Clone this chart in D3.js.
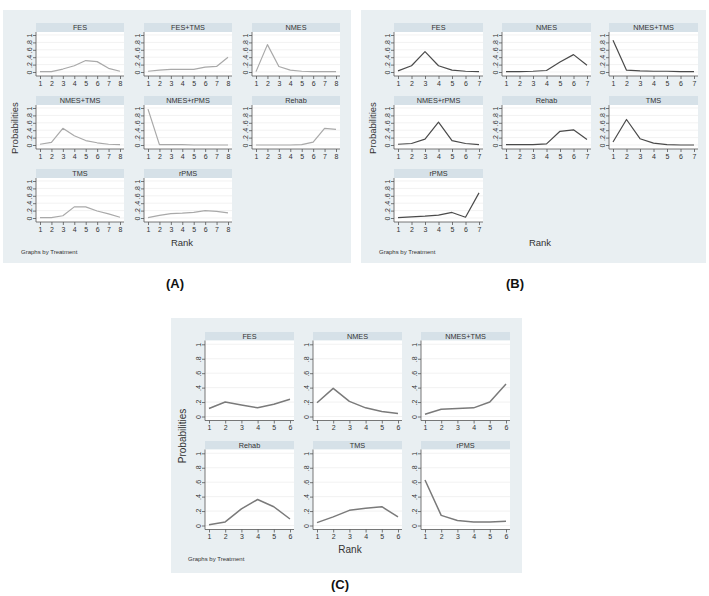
<!DOCTYPE html>
<html>
<head>
<meta charset="utf-8">
<script src="https://cdn.jsdelivr.net/npm/d3@7"></script>
<style>
  body { margin: 0; background: #fff; }
  text { font-family: "Liberation Sans", Arial, sans-serif; }
</style>
</head>
<body>
<svg id="chart" width="709" height="596"></svg>
<script>
// shared y axis ticks
const yTicks = [0, 0.2, 0.4, 0.6, 0.8, 1];
const yTickLabels = ["0", ".2", ".4", ".6", ".8", "1"];

// (A) 8 treatments, ranks 1-8
const ranksA = [1, 2, 3, 4, 5, 6, 7, 8];
const treatmentsA = ["FES", "FES+TMS", "NMES", "NMES+TMS", "NMES+rPMS", "Rehab", "TMS", "rPMS"];
const probsA = [
  [0.01, 0.01, 0.08, 0.17, 0.31, 0.28, 0.10, 0.02],
  [0.02, 0.05, 0.07, 0.07, 0.07, 0.13, 0.15, 0.40],
  [0.01, 0.74, 0.15, 0.05, 0.02, 0.01, 0.01, 0.01],
  [0.02, 0.07, 0.45, 0.25, 0.12, 0.06, 0.02, 0.01],
  [0.97, 0.01, 0.01, 0.01, 0.00, 0.00, 0.00, 0.00],
  [0.00, 0.00, 0.00, 0.00, 0.01, 0.08, 0.45, 0.42],
  [0.01, 0.01, 0.06, 0.30, 0.30, 0.19, 0.11, 0.02],
  [0.01, 0.07, 0.12, 0.13, 0.15, 0.20, 0.18, 0.14]
];

// (B) 7 treatments, ranks 1-7
const ranksB = [1, 2, 3, 4, 5, 6, 7];
const treatmentsB = ["FES", "NMES", "NMES+TMS", "NMES+rPMS", "Rehab", "TMS", "rPMS"];
const probsB = [
  [0.03, 0.17, 0.55, 0.17, 0.05, 0.02, 0.01],
  [0.01, 0.01, 0.02, 0.04, 0.27, 0.47, 0.18],
  [0.86, 0.05, 0.03, 0.02, 0.02, 0.01, 0.01],
  [0.02, 0.04, 0.16, 0.62, 0.12, 0.04, 0.01],
  [0.01, 0.01, 0.01, 0.03, 0.37, 0.41, 0.15],
  [0.08, 0.69, 0.17, 0.05, 0.01, 0.00, 0.00],
  [0.01, 0.03, 0.05, 0.08, 0.15, 0.02, 0.68]
];

// (C) 6 treatments, ranks 1-6
const ranksC = [1, 2, 3, 4, 5, 6];
const treatmentsC = ["FES", "NMES", "NMES+TMS", "Rehab", "TMS", "rPMS"];
const probsC = [
  [0.11, 0.20, 0.16, 0.12, 0.17, 0.24],
  [0.19, 0.39, 0.21, 0.12, 0.07, 0.04],
  [0.03, 0.10, 0.11, 0.12, 0.20, 0.45],
  [0.01, 0.05, 0.23, 0.36, 0.26, 0.09],
  [0.04, 0.12, 0.21, 0.24, 0.26, 0.12],
  [0.63, 0.14, 0.07, 0.05, 0.05, 0.06]
];

const svg = d3.select("#chart");

function drawPanel(p) {
  const g = svg.append("g");

  g.append("rect")
    .attr("x", p.bg[0]).attr("y", p.bg[1])
    .attr("width", p.bg[2]).attr("height", p.bg[3])
    .attr("fill", "#e9eff2");

  p.treatments.forEach((name, i) => {
    const x0 = p.cols[i % 3];
    const top = p.rows[Math.floor(i / 3)];
    const hb = top + p.headerH;

    const x = d3.scaleLinear()
      .domain(d3.extent(p.ranks))
      .range([x0 + 4, x0 + p.w - 4]);
    const y = d3.scaleLinear()
      .domain([0, 1])
      .range([hb + p.plotH - p.padB, hb + p.padT]);

    // strip title
    g.append("rect")
      .attr("x", x0).attr("y", top)
      .attr("width", p.w).attr("height", p.headerH)
      .attr("fill", "#d6e1e8");
    g.append("text")
      .attr("x", x0 + p.w / 2).attr("y", top + p.headerH - 1.8)
      .attr("text-anchor", "middle")
      .attr("font-size", p.titleSize)
      .attr("fill", "#333")
      .text(name);

    // plot region
    g.append("rect")
      .attr("x", x0).attr("y", hb)
      .attr("width", p.w).attr("height", p.plotH)
      .attr("fill", "#fff");

    g.selectAll(null)
      .data(yTicks)
      .join("line")
      .attr("x1", x0).attr("x2", x0 + p.w)
      .attr("y1", d => y(d)).attr("y2", d => y(d))
      .attr("stroke", "#ececec")
      .attr("stroke-width", 0.7);

    // y axis
    const yAxis = g.append("g")
      .attr("transform", `translate(${x0},0)`)
      .call(d3.axisLeft(y).tickValues(yTicks)
        .tickFormat((d, k) => yTickLabels[k]).tickSize(3).tickPadding(1.5));
    yAxis.select(".domain").attr("stroke", "#555").attr("stroke-width", 0.8)
      .attr("d", `M0,${hb}V${hb + p.plotH}`);
    yAxis.selectAll(".tick line").attr("stroke", "#555").attr("stroke-width", 0.8);
    yAxis.selectAll(".tick text")
      .attr("font-size", p.tickSize)
      .attr("fill", "#333")
      .attr("font-family", "Liberation Sans, Arial, sans-serif")
      .attr("text-anchor", "middle")
      .attr("x", null).attr("dy", null)
      .attr("transform", "translate(-4.5,0) rotate(-90)");

    // x axis
    const xAxis = g.append("g")
      .attr("transform", `translate(0,${hb + p.plotH})`)
      .call(d3.axisBottom(x).tickValues(p.ranks)
        .tickFormat(d3.format("d")).tickSize(3).tickPadding(2));
    xAxis.select(".domain").attr("stroke", "#555").attr("stroke-width", 0.8)
      .attr("d", `M${x0},0H${x0 + p.w}`);
    xAxis.selectAll(".tick line").attr("stroke", "#555").attr("stroke-width", 0.8);
    xAxis.selectAll(".tick text")
      .attr("font-size", p.tickSize)
      .attr("fill", "#333")
      .attr("font-family", "Liberation Sans, Arial, sans-serif");

    const line = d3.line()
      .x((d, k) => x(p.ranks[k]))
      .y(d => y(d));

    g.append("path")
      .datum(p.probs[i])
      .attr("d", line)
      .attr("fill", "none")
      .attr("stroke", p.lineColor)
      .attr("stroke-width", p.lineWidth)
      .attr("stroke-linejoin", "round");
  });

  g.append("text")
    .attr("transform", `translate(${p.yTitle[0]},${p.yTitle[1]}) rotate(-90)`)
    .attr("text-anchor", "middle")
    .attr("font-size", p.axisTitleSize)
    .attr("fill", "#333")
    .text("Probabilities");

  g.append("text")
    .attr("x", p.xTitle[0]).attr("y", p.xTitle[1])
    .attr("text-anchor", "middle")
    .attr("font-size", p.axisTitleSize)
    .attr("fill", "#333")
    .text("Rank");

  g.append("text")
    .attr("x", p.note[0]).attr("y", p.note[1])
    .attr("font-size", p.noteSize)
    .attr("fill", "#333")
    .text("Graphs by Treatment");

  svg.append("text")
    .attr("x", p.label[0]).attr("y", p.label[1])
    .attr("text-anchor", "middle")
    .attr("font-size", 13)
    .attr("font-weight", "bold")
    .attr("fill", "#111")
    .text(p.labelText);
}

drawPanel({
  bg: [3, 10, 348, 253],
  cols: [36, 144, 252], rows: [23, 96, 169], w: 88,
  headerH: 9, plotH: 44, padT: 3, padB: 4,
  treatments: treatmentsA, ranks: ranksA, probs: probsA,
  lineColor: "#a9a9a9", lineWidth: 1.2,
  titleSize: 7.3, tickSize: 7, axisTitleSize: 9.5, noteSize: 6,
  yTitle: [18, 128], xTitle: [182, 246], note: [21, 254],
  label: [175, 288], labelText: "(A)"
});

drawPanel({
  bg: [361, 10, 345, 253],
  cols: [394, 502, 609], rows: [23, 96, 169], w: 89,
  headerH: 9, plotH: 44, padT: 3, padB: 4,
  treatments: treatmentsB, ranks: ranksB, probs: probsB,
  lineColor: "#4a4a4a", lineWidth: 1.2,
  titleSize: 7.3, tickSize: 7, axisTitleSize: 9.5, noteSize: 6,
  yTitle: [376, 128], xTitle: [540, 246], note: [379, 254],
  label: [515, 288], labelText: "(B)"
});

drawPanel({
  bg: [171, 318, 351, 255],
  cols: [205, 313, 421], rows: [332, 441], w: 89,
  headerH: 8.5, plotH: 80, padT: 3.8, padB: 4,
  treatments: treatmentsC, ranks: ranksC, probs: probsC,
  lineColor: "#7a7a7a", lineWidth: 1.5,
  titleSize: 7.3, tickSize: 7, axisTitleSize: 10, noteSize: 6,
  yTitle: [186, 436], xTitle: [350, 553], note: [188, 561],
  label: [340, 589], labelText: "(C)"
});
</script>
</body>
</html>
